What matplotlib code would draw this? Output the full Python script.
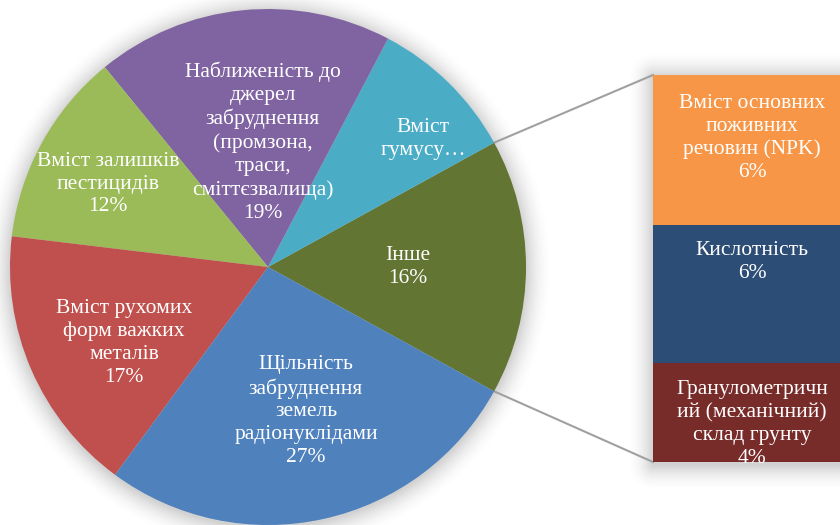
import numpy as np
import matplotlib.pyplot as plt

# main pie: first slice "Інше" is split into the bar on the right
main_labels = ['Інше', 'Вміст\nгумусу…',
               'Наближеність до\nджерел\nзабруднення\n(промзона,\nтраси,\nсміттєзвалища)',
               'Вміст залишків\nпестицидів',
               'Вміст рухомих\nформ важких\nметалів',
               'Щільність\nзабруднення\nземель\nрадіонуклідами']
main_rest = [9.3, 18.6, 12.2, 16.8, 27.1]
show_pct = [True, False, True, True, True, True]
main_colors = ['#627532', '#4BACC6', '#8064A2', '#9BBB59', '#C0504D', '#4F81BD']

bar_labels = ['Вміст основних\nпоживних\nречовин (NPK)', 'Кислотність',
              'Гранулометричн\nий (механічний)\nсклад грунту']
bar_values = [6.2, 5.7, 4.1]
bar_colors = ['#F79646', '#2C4D75', '#772C2A']

main_values = [sum(bar_values)] + main_rest
total = sum(main_values)

W, H = 840, 525
cx, cy, R = 268, 258, 258
bar_x, bar_w, bar_top, bar_h = 653, 220, 450, 387

fig = plt.figure(figsize=(8.4, 5.25), dpi=100)
ax = fig.add_axes([0, 0, 1, 1])

# soft shadow
yy, xx = np.mgrid[0:H, 0:W] + 0.5
d_pie = np.hypot(xx - cx, yy - (cy - 2)) - R
dx = np.maximum(np.maximum(bar_x - xx, 0), xx - (bar_x + bar_w))
dy = np.maximum(np.maximum((bar_top - bar_h - 3) - yy, 0), yy - (bar_top - 2))
d_bar = np.hypot(dx, dy)
d = np.minimum(np.maximum(d_pie, 0), d_bar)
alpha = 0.18 * np.clip(1 - d / 28, 0, 1) ** 2
img = np.zeros((H, W, 4))
img[..., 3] = alpha
ax.imshow(img, extent=(0, W, 0, H), origin='lower', zorder=0)

start = -main_values[0] / total * 180
wedges, _ = ax.pie(main_values, colors=main_colors, startangle=start,
                   center=(cx, cy), radius=R, counterclock=True,
                   wedgeprops=dict(linewidth=0), frame=True)
for w in wedges:
    w.set_zorder(2)

# bar of the "other" slice
scale = bar_h / sum(bar_values)
heights = [v * scale for v in bar_values]
bottoms = [bar_top - sum(heights[:i + 1]) for i in range(len(heights))]
ax.bar([bar_x] * 3, heights, bottom=bottoms, width=bar_w, align='edge',
       color=bar_colors, linewidth=0, zorder=2)

# connector lines
ang = np.radians(main_values[0] / total * 180)
ax.plot([cx + R * np.cos(ang), bar_x], [cy + R * np.sin(ang), bar_top],
        color='#A0A0A0', lw=1.5, zorder=1)
ax.plot([cx + R * np.cos(ang), bar_x], [cy - R * np.sin(ang), bar_top - bar_h],
        color='#A0A0A0', lw=1.5, zorder=1)

font = dict(family='Liberation Serif', size=15.5, color='white',
            ha='center', va='center', linespacing=1.28, zorder=3)

pie_pos = [(408, 267), (423, 139), (263, 142), (108, 184), (124, 343), (306, 411)]
for lab, v, sp, (px, py) in zip(main_labels, main_values, show_pct, pie_pos):
    txt = lab + (f'\n{round(v / total * 100)}%' if sp else '')
    ax.text(px, H - py, txt, **font)

bar_pos = [(752, 138), (752, 262), (752, 424)]
for lab, v, (px, py) in zip(bar_labels, bar_values, bar_pos):
    ax.text(px, H - py, f'{lab}\n{round(v / total * 100)}%', **font)

ax.set_xlim(0, W)
ax.set_ylim(0, H)
ax.set_aspect('auto')
ax.axis('off')

fig.savefig('out.png', dpi=100)
